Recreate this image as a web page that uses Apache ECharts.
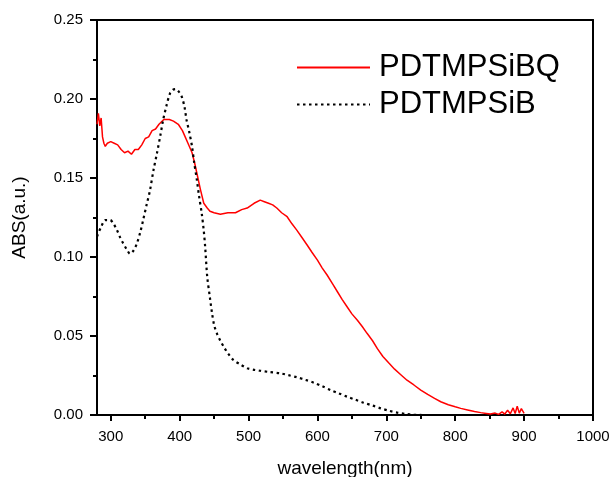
<!DOCTYPE html>
<html>
<head>
<meta charset="utf-8">
<script src="https://cdn.jsdelivr.net/npm/echarts@6/dist/echarts.min.js"></script>
<style>
  html, body { margin: 0; padding: 0; background: #fff; }
  #chart { width: 610px; height: 477px; }
</style>
</head>
<body>
<div id="chart"></div>
<script>
// wavelength (nm) / absorbance
var bqWave = [280, 282, 284, 286, 288, 290, 292, 295, 300, 305, 310, 315, 320, 325, 330, 335, 340, 345, 350, 355, 360, 365, 370, 377, 385, 391, 398, 404, 408, 413, 418, 422, 425, 430, 435, 440, 444, 450, 459, 470, 481, 490, 498, 508, 517, 523, 529, 535, 541, 548, 556, 563, 570, 578, 585, 592, 600, 607, 614, 622, 629, 636, 643, 650, 658, 665, 672, 680, 687, 695, 704, 712, 721, 730, 740, 750, 760, 770, 779, 790, 800, 808, 818, 828, 837, 845, 851, 858, 863, 868, 872, 876, 880, 884, 887, 890, 893, 896, 900];
var bqAbs = [0.184, 0.191, 0.183, 0.188, 0.176, 0.172, 0.170, 0.172, 0.173, 0.172, 0.171, 0.168, 0.166, 0.167, 0.165, 0.168, 0.168, 0.171, 0.175, 0.176, 0.180, 0.181, 0.184, 0.187, 0.187, 0.186, 0.184, 0.180, 0.176, 0.171, 0.166, 0.159, 0.153, 0.143, 0.134, 0.131, 0.129, 0.128, 0.127, 0.128, 0.128, 0.130, 0.131, 0.134, 0.136, 0.135, 0.134, 0.133, 0.131, 0.128, 0.1255, 0.121, 0.117, 0.112, 0.1076, 0.103, 0.098, 0.093, 0.0886, 0.083, 0.078, 0.073, 0.0685, 0.064, 0.060, 0.056, 0.0517, 0.047, 0.042, 0.037, 0.0327, 0.029, 0.0255, 0.022, 0.019, 0.0158, 0.013, 0.0105, 0.0084, 0.0065, 0.0052, 0.0042, 0.0032, 0.0022, 0.0015, 0.0010, 0.0006, 0.0012, 0.0004, 0.0020, 0.0006, 0.0030, 0.0008, 0.0045, 0.0010, 0.0055, 0.0012, 0.0040, 0.0010];

var bWave = [280, 286, 292, 299, 304, 309, 314, 318, 323, 328, 333, 338, 343, 347, 352, 357, 362, 367, 372, 376, 381, 386, 390, 394, 399, 403, 407, 410, 414, 418, 421, 425, 428, 432, 435, 437, 440, 444, 447, 450, 454, 459, 464, 471, 478, 488, 498, 508, 517, 530, 546, 558, 570, 583, 595, 607, 619, 631, 643, 655, 667, 680, 692, 704, 716, 728, 740, 752, 767];
var bAbs = [0.113, 0.119, 0.1234, 0.1234, 0.121, 0.117, 0.112, 0.1087, 0.105, 0.102, 0.104, 0.1087, 0.116, 0.1234, 0.133, 0.1424, 0.155, 0.1656, 0.177, 0.1867, 0.196, 0.2036, 0.2058, 0.2063, 0.2045, 0.2015, 0.195, 0.1867, 0.179, 0.1698, 0.160, 0.1487, 0.139, 0.1277, 0.1165, 0.1065, 0.0875, 0.074, 0.0644, 0.057, 0.0517, 0.047, 0.0432, 0.0385, 0.0348, 0.032, 0.0296, 0.0286, 0.028, 0.0272, 0.0264, 0.0252, 0.0239, 0.0222, 0.0204, 0.0182, 0.0158, 0.0137, 0.0116, 0.0097, 0.0078, 0.006, 0.0042, 0.0027, 0.0015, 0.0007, 0.0002, 0.0, 0.0];

var seriesNames = ['PDTMPSiBQ', 'PDTMPSiB'];
var majorTicks = [300, 400, 500, 600, 700, 800, 900, 1000];
var minorTicks = [350, 450, 550, 650, 750, 850, 950];

function pairs(xs, ys) {
    var out = [];
    for (var i = 0; i < xs.length; i++) {
        out.push([xs[i], ys[i]]);
    }
    return out;
}

var chart = echarts.init(document.getElementById('chart'));
var font = 'Liberation Sans, Arial, sans-serif';
var axisLine = { show: true, lineStyle: { color: '#000', width: 2 } };

chart.setOption({
    backgroundColor: '#fff',
    animation: false,
    grid: { left: 97, right: 17, top: 20, bottom: 62, containLabel: false, outerBoundsMode: 'none' },
    legend: {
        orient: 'vertical',
        left: 291,
        top: 47,
        itemWidth: 73,
        itemHeight: 12,
        itemGap: 6,
        data: seriesNames,
        itemStyle: { opacity: 0 },
        textStyle: { fontSize: 31, color: '#000', fontFamily: font, padding: [0, 0, 0, 4] }
    },
    xAxis: [{
        // main bottom axis: labels + major ticks
        type: 'value', min: 280, max: 1000, position: 'bottom',
        name: 'wavelength(nm)', nameLocation: 'middle', nameGap: 44,
        nameTextStyle: { fontSize: 19, color: '#000', fontFamily: font },
        axisLine: axisLine,
        axisTick: { show: true, length: 6, customValues: majorTicks, lineStyle: { color: '#000', width: 2 } },
        axisLabel: {
            customValues: majorTicks, fontSize: 15, color: '#000', fontFamily: font, margin: 14,
            formatter: function (v) { return String(v); }
        },
        splitLine: { show: false }
    }, {
        // minor ticks on bottom
        type: 'value', min: 280, max: 1000, position: 'bottom',
        axisLine: { show: false },
        axisTick: { show: true, length: 4, customValues: minorTicks, lineStyle: { color: '#000', width: 2 } },
        axisLabel: { show: false },
        splitLine: { show: false }
    }, {
        // top frame
        type: 'value', min: 280, max: 1000, position: 'top',
        axisLine: axisLine,
        axisTick: { show: false },
        axisLabel: { show: false },
        splitLine: { show: false }
    }],
    yAxis: [{
        type: 'value', min: 0, max: 0.25, interval: 0.05, position: 'left',
        name: 'ABS(a.u.)', nameLocation: 'middle', nameGap: 68, nameRotate: 90,
        nameTextStyle: { fontSize: 19, color: '#000', fontFamily: font },
        axisLine: axisLine,
        axisTick: { show: true, length: 7, lineStyle: { color: '#000', width: 2 } },
        minorTick: { show: true, splitNumber: 2, length: 4, lineStyle: { color: '#000', width: 2 } },
        axisLabel: {
            fontSize: 15, color: '#000', fontFamily: font, margin: 14,
            formatter: function (v) { return v.toFixed(2); }
        },
        splitLine: { show: false }
    }, {
        type: 'value', min: 0, max: 0.25, interval: 0.05, position: 'right',
        axisLine: axisLine,
        axisTick: { show: false },
        axisLabel: { show: false },
        splitLine: { show: false }
    }],
    series: [{
        name: seriesNames[0],
        type: 'line',
        xAxisIndex: 0, yAxisIndex: 0,
        showSymbol: false, symbol: 'none',
        lineStyle: { color: '#ff0000', width: 1.5 },
        itemStyle: { color: '#ff0000' },
        data: pairs(bqWave, bqAbs)
    }, {
        name: seriesNames[1],
        type: 'line',
        xAxisIndex: 0, yAxisIndex: 0,
        smooth: 0.3,
        showSymbol: false, symbol: 'none',
        lineStyle: { color: '#000', width: 2.2, type: [2.5, 3.5] },
        itemStyle: { color: '#000' },
        data: pairs(bWave, bAbs)
    }]
});
</script>
</body>
</html>
